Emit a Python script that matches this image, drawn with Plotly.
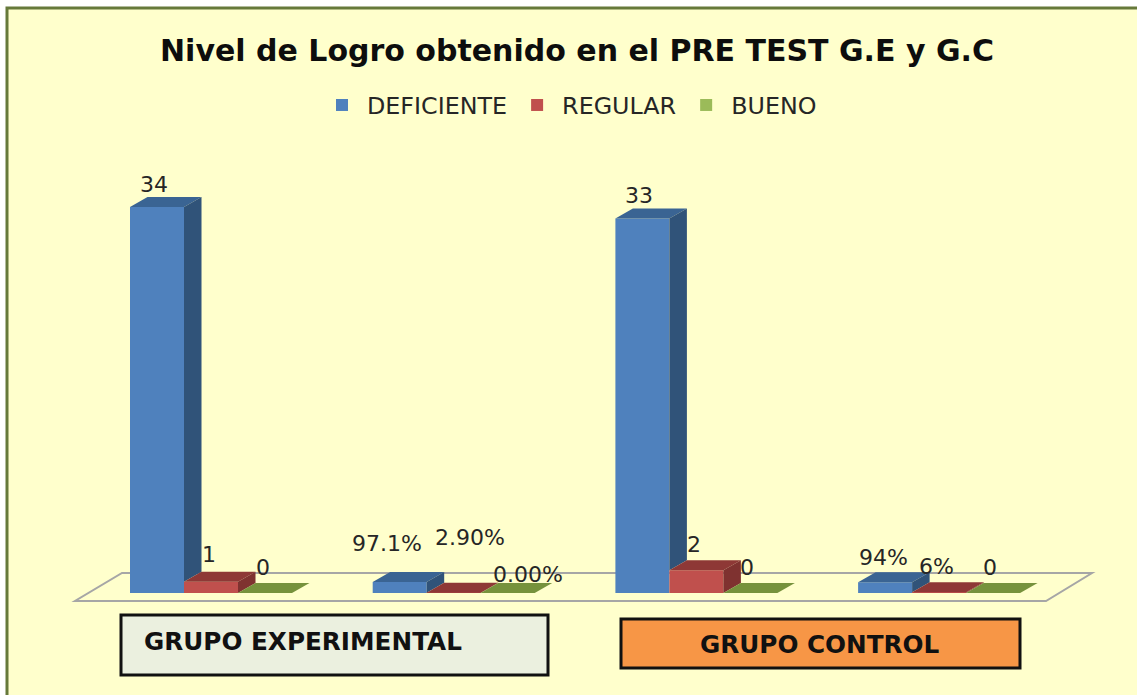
import plotly.graph_objects as go

# ---- data ----
positions = [0, 1, 2, 3]
series_names = ["DEFICIENTE", "REGULAR", "BUENO"]
deficiente = [34, 0.971, 33, 0.94]
regular = [1, 0.029, 2, 0.06]
bueno = [0, 0, 0, 0]
deficiente_labels = ["34", "97.1%", "33", "94%"]
regular_labels = ["1", "2.90%", "2", "6%"]
bueno_labels = ["0", "0.00%", "0", "0"]
title_text = "Nivel de Logro obtenido en el PRE TEST G.E y G.C"
group_names = ["GRUPO EXPERIMENTAL", "GRUPO CONTROL"]

# ---- styling / scale ----
W, H = 1137, 695
PX_X, PX_Y = 242.7, 11.35      # pixels per data unit
X0_PX, Y0_PX = 211, 593        # pixel position of x=0, y=0
BAR_W = 54 / PX_X
DX, DY = 17.5 / PX_X, 10 / PX_Y
front = ["#4F81BD", "#C0504D", "#9BBB59"]
side = ["#305379", "#7F3230", "#5F7530"]
top = ["#3A6493", "#8E3836", "#76923C"]
BG = "#FFFFCC"
FONT = "DejaVu Sans"
TXT = "#262626"

fx = lambda p: (p - X0_PX) / PX_X
fy = lambda p: (Y0_PX - p) / PX_Y
px = lambda p: p / W
py = lambda p: 1 - p / H

values = [deficiente, regular, bueno]
labels = [deficiente_labels, regular_labels, bueno_labels]
fig = go.Figure()

for s, name in enumerate(series_names):
    fig.add_trace(go.Bar(
        x=[c + (s - 1) * BAR_W for c in positions], y=values[s], name=name, width=BAR_W,
        marker=dict(color=front[s], line=dict(width=0)),
        hoverinfo="skip"))

# 3-D faces, derived from the same values
for s in range(3):
    for c in positions:
        v = values[s][c]
        x0 = c + (s - 1.5) * BAR_W
        x1 = x0 + BAR_W
        base = values[s + 1][c] if s < 2 else 0
        fig.add_trace(go.Scatter(
            x=[x0, x1, x1 + DX, x0 + DX, x0], y=[v, v, v + DY, v + DY, v],
            fill="toself", fillcolor=top[s], mode="none",
            showlegend=False, hoverinfo="skip"))
        if v > 0:
            fig.add_trace(go.Scatter(
                x=[x1, x1 + DX, x1 + DX, x1, x1],
                y=[base, base + DY, v + DY, v, base],
                fill="toself", fillcolor=side[s], mode="none",
                showlegend=False, hoverinfo="skip"))

# label offsets in pixels relative to the bar's front-top centre
offs = [
    [(-3, 23), (-13, 38), (-3, 23), (-2, 25)],
    [(-2, 27), (16, 55), (-2, 26), (-3, 26)],
    [(-2, 26), (20, 19), (-3, 26), (-3, 26)],
]
annotations = []
for s in range(3):
    for c in positions:
        x = c + (s - 1) * BAR_W
        dx, dy = offs[s][c]
        annotations.append(dict(
            x=x, y=values[s][c], xref="x", yref="y", text=labels[s][c],
            showarrow=False, xshift=dx, yshift=dy, xanchor="center", yanchor="middle",
            font=dict(family=FONT, size=22, color=TXT)))

annotations += [
    dict(x=px(576.5), y=py(50), xref="paper", yref="paper", text=f"<b>{title_text}</b>",
         xanchor="center", yanchor="middle",
         showarrow=False, font=dict(family=FONT, size=30, color="#0D0D0D")),
    dict(x=px(303), y=py(641), xref="paper", yref="paper", text=f"<b>{group_names[0]}</b>",
         xanchor="center", yanchor="middle",
         showarrow=False, font=dict(family=FONT, size=24.7, color="#111111")),
    dict(x=px(820), y=py(644), xref="paper", yref="paper", text=f"<b>{group_names[1]}</b>",
         xanchor="center", yanchor="middle",
         showarrow=False, font=dict(family=FONT, size=24.7, color="#111111")),
]

shapes = [
    dict(type="rect", xref="paper", yref="paper", x0=px(7), x1=px(1160), y0=py(8), y1=py(720),
         fillcolor=BG, line=dict(color="#66793A", width=3), layer="below"),
    dict(type="path", xref="paper", yref="paper",
         path=f"M{px(75)},{py(601)} L{px(1046)},{py(601)} L{px(1092)},{py(573)} L{px(122)},{py(573)} Z",
         fillcolor=BG, line=dict(color="#A6A6A6", width=2), layer="below"),
    dict(type="rect", xref="paper", yref="paper", x0=px(121), x1=px(548), y0=py(615), y1=py(675),
         fillcolor="#EBF0DF", line=dict(color="#111111", width=3), layer="below"),
    dict(type="rect", xref="paper", yref="paper", x0=px(621), x1=px(1020), y0=py(619), y1=py(668),
         fillcolor="#F79646", line=dict(color="#111111", width=3), layer="below"),
]

fig.update_layout(
    width=W, height=H, autosize=False,
    margin=dict(l=0, r=0, t=0, b=0),
    paper_bgcolor="white", plot_bgcolor="rgba(0,0,0,0)",
    barmode="overlay",
    showlegend=True,
    legend=dict(orientation="h", x=px(317), y=py(105), xanchor="left", yanchor="middle",
                bgcolor="rgba(0,0,0,0)", itemwidth=40,
                font=dict(family=FONT, size=23.8, color=TXT), traceorder="normal",
                itemclick=False, itemdoubleclick=False),
    xaxis=dict(range=[fx(0), fx(W)], visible=False, fixedrange=True),
    yaxis=dict(range=[fy(H), fy(0)], visible=False, fixedrange=True),
    shapes=shapes, annotations=annotations,
)

fig.write_html("out.html", config={"displayModeBar": False},
               post_script="document.body.style.margin='0';document.body.style.overflow='hidden';")
